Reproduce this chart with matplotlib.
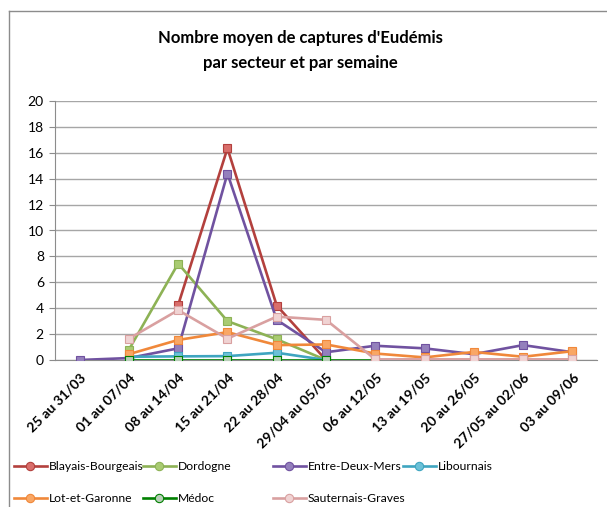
import numpy as np
import matplotlib
matplotlib.use("Agg")
import matplotlib.pyplot as plt
from matplotlib.lines import Line2D

nan = np.nan
categories = ["25 au 31/03", "01 au 07/04", "08 au 14/04", "15 au 21/04", "22 au 28/04",
              "29/04 au 05/05", "06 au 12/05", "13 au 19/05", "20 au 26/05",
              "27/05 au 02/06", "03 au 09/06"]

blayais = [nan, nan, 4.25, 16.35, 4.2, 0.0, nan, nan, nan, nan, nan]
dordogne = [nan, 0.8, 7.45, 3.0, 1.6, 0.0, nan, nan, nan, nan, nan]
entre_deux_mers = [0.0, 0.15, 0.9, 14.4, 3.1, 0.6, 1.1, 0.9, 0.45, 1.15, 0.6]
libournais = [nan, 0.25, 0.28, 0.3, 0.56, 0.0, nan, nan, nan, nan, nan]
lot_et_garonne = [nan, 0.45, 1.55, 2.15, 1.15, 1.2, 0.5, 0.2, 0.62, 0.25, 0.68]
medoc = [nan, 0, 0, 0, 0, 0, 0, 0, 0, 0, 0]
sauternais = [nan, 1.65, 3.85, 1.65, 3.35, 3.1, 0.05, 0.05, 0.05, 0.05, 0.05]

series_names = ["Blayais-Bourgeais", "Dordogne", "Entre-Deux-Mers", "Libournais",
                "Lot-et-Garonne", "Médoc", "Sauternais-Graves"]
series_values = [blayais, dordogne, entre_deux_mers, libournais, lot_et_garonne, medoc, sauternais]
line_colors = ["#B3403D", "#8DB255", "#7052A0", "#3FA5C0", "#F0883A", "#008000", "#D9A0A0"]
face_colors = ["#D96E6B", "#A9CB72", "#9480BC", "#6CC1D8", "#F9A765", "#B8CFB8", "#F0D3D3"]

FONT = ["Lato", "DejaVu Sans"]
plt.rcParams['font.family'] = FONT

W, H = 607, 507
fig = plt.figure(figsize=(W / 100, H / 100), dpi=100)

# chart frame
fig.add_artist(Line2D([9 / W, 1.0], [1 - 11 / H, 1 - 11 / H], transform=fig.transFigure,
                      color="#8C8C8C", lw=1.0))
fig.add_artist(Line2D([9 / W, 9 / W], [0, 1 - 11 / H], transform=fig.transFigure,
                      color="#8C8C8C", lw=1.0))

ax = fig.add_axes([55 / W, (H - 360) / H, (597 - 55) / W, (360 - 101) / H])
x = np.arange(len(categories))

for name, vals, lc, fc in zip(series_names, series_values, line_colors, face_colors):
    ax.plot(x, vals, color=lc, lw=1.9, marker="s", ms=6, mfc=fc, mec=lc, mew=0.8,
            label=name, zorder=3)

ax.set_xlim(-0.5, len(categories) - 0.5)
ax.set_ylim(0, 20)
ax.set_yticks(np.arange(0, 21, 2))
ax.yaxis.grid(True, color="#A6A6A6", lw=1.0)
ax.set_axisbelow(True)
for s in ["top", "right"]:
    ax.spines[s].set_visible(False)
ax.spines["left"].set_color("#8C8C8C")
ax.spines["bottom"].set_color("#8C8C8C")
ax.tick_params(axis="y", length=4, color="#8C8C8C", labelsize=10, pad=4)
ax.set_xticks(x)
ax.set_xticklabels(categories, rotation=45, ha="right", rotation_mode="anchor",
                   fontsize=10, fontweight="bold")
ax.tick_params(axis="x", length=0, pad=8)

fig.text(300 / W, 1 - 38 / H, "Nombre moyen de captures d'Eudémis", ha="center", va="center",
         fontsize=12, fontweight="bold")
fig.text(300 / W, 1 - 63 / H, "par secteur et par semaine", ha="center", va="center",
         fontsize=12, fontweight="bold")

# legend, laid out in Excel-like fixed columns
col_x = [14, 143, 273, 403]
row_y = [467, 499]
for i, (name, lc, fc) in enumerate(zip(series_names, line_colors, face_colors)):
    r, c = divmod(i, 4)
    h = Line2D([], [], color=lc, lw=1.9, marker="o", ms=6, mfc=fc, mec=lc, mew=0.8)
    fig.legend([h], [name], loc="center left",
               bbox_to_anchor=(col_x[c] / W, 1 - row_y[r] / H),
               frameon=False, fontsize=8.7, handlelength=2.7, handletextpad=0.15,
               borderpad=0, borderaxespad=0)

fig.savefig("out.png", dpi=100)
